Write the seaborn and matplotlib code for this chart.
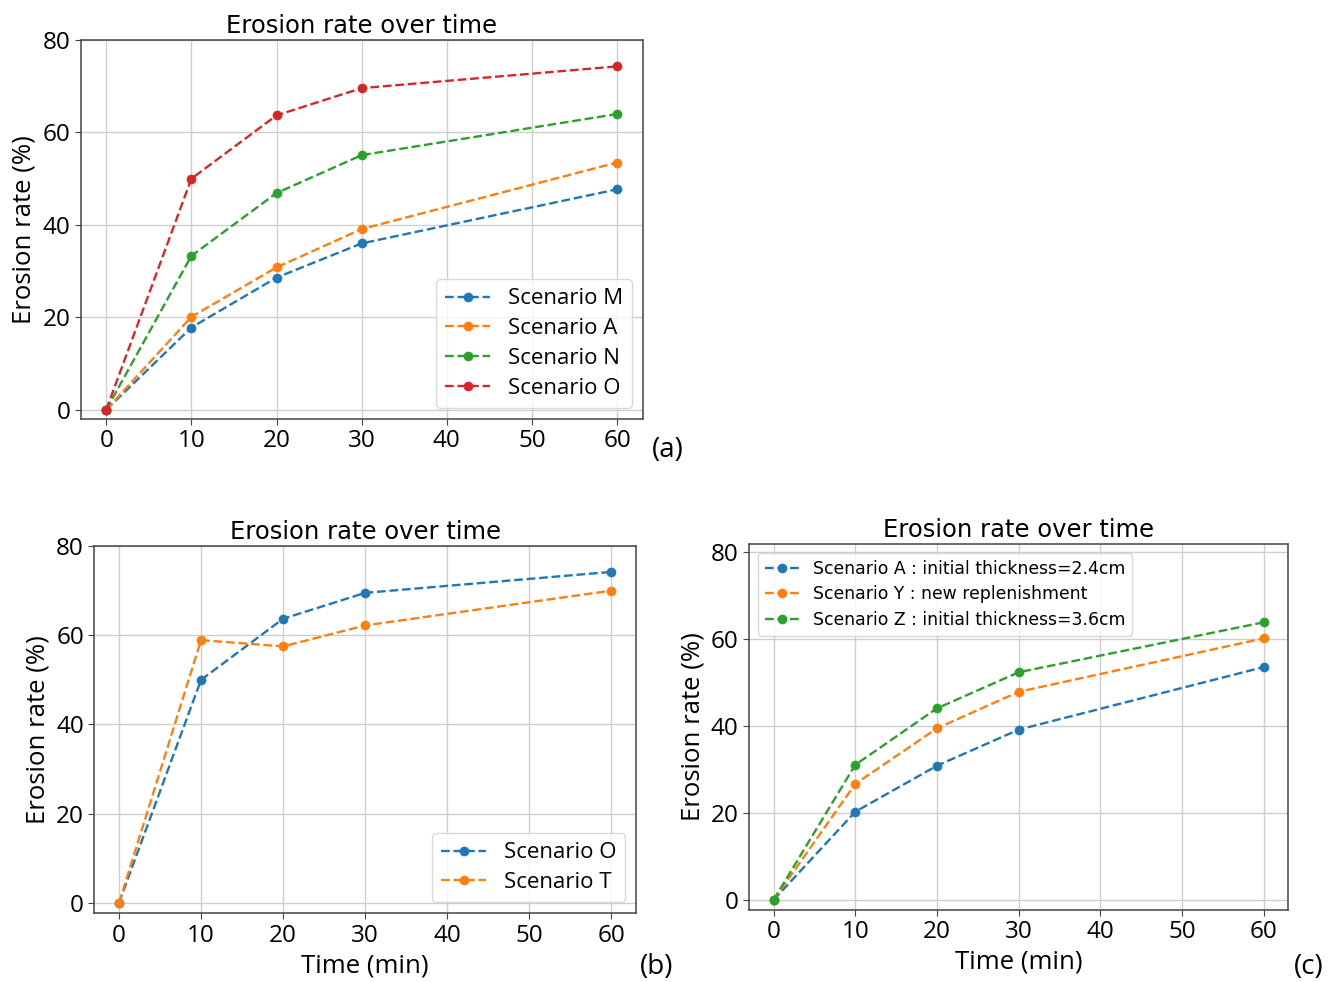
import matplotlib
matplotlib.use("Agg")
import matplotlib.pyplot as plt
import seaborn as sns
import pandas as pd

# Sampling times (minutes)
time_min = [0, 10, 20, 30, 60]

# Panel (a): four scenarios
scen_a_names = ["Scenario M", "Scenario A", "Scenario N", "Scenario O"]
rate_M = [0, 17.8, 28.6, 36.0, 47.7]
rate_A = [0, 20.1, 30.8, 39.1, 53.5]
rate_N = [0, 33.3, 46.9, 55.1, 64.0]
rate_O = [0, 50.0, 63.7, 69.6, 74.3]

# Panel (b): scenarios O and T
scen_b_names = ["Scenario O", "Scenario T"]
rate_O_b = [0, 50.0, 63.7, 69.5, 74.2]
rate_T = [0, 58.9, 57.5, 62.2, 70.0]

# Panel (c): thickness / replenishment comparison
scen_c_names = ["Scenario A : initial thickness=2.4cm",
                "Scenario Y : new replenishment",
                "Scenario Z : initial thickness=3.6cm"]
rate_A_c = [0, 20.3, 30.9, 39.2, 53.6]
rate_Y = [0, 26.7, 39.5, 47.9, 60.2]
rate_Z = [0, 31.1, 44.1, 52.4, 63.9]

yticks = [0, 20, 40, 60, 80]
xticks = [0, 10, 20, 30, 40, 50, 60]

palette = sns.color_palette("tab10")
LABEL_FONT = ["Open Sans", "DejaVu Sans"]
TITLE_FONT = ["DejaVu Sans"]

fig = plt.figure(figsize=(13.38, 9.82), dpi=100)


def make_frame(names, series):
    rows = []
    for name, vals in zip(names, series):
        for t, v in zip(time_min, vals):
            rows.append({"time": t, "rate": v, "scenario": name})
    return pd.DataFrame(rows)


def draw_panel(ax, names, series, ylim, xlabel, legend_loc, legend_font,
               legend_size, legend_spacing, tick_size, label_size):
    df = make_frame(names, series)
    for i, name in enumerate(names):
        sub = df[df["scenario"] == name]
        sns.lineplot(data=sub, x="time", y="rate", ax=ax, color=palette[i],
                     linestyle="--", marker="o", markersize=6.5,
                     markeredgecolor=palette[i], markeredgewidth=0.5,
                     linewidth=1.7, label=name)
    ax.set_xlim(-3, 63)
    ax.set_ylim(*ylim)
    ax.set_xticks(xticks)
    ax.set_yticks(yticks)
    ax.grid(True, color="#cfcfcf", linewidth=1.0)
    ax.set_axisbelow(True)
    for sp in ax.spines.values():
        sp.set_color("#444444")
        sp.set_linewidth(1.1)
    ax.tick_params(labelsize=tick_size, color="#444444", length=4)
    for lab in ax.get_xticklabels() + ax.get_yticklabels():
        lab.set_family(LABEL_FONT)
    ax.set_title("Erosion rate over time", fontsize=17.5, family=TITLE_FONT, pad=5)
    ax.set_ylabel("Erosion rate (%)", fontsize=label_size, family=LABEL_FONT)
    ax.set_xlabel(xlabel, fontsize=label_size, family=LABEL_FONT)
    leg = ax.legend(loc=legend_loc, prop={"family": legend_font, "size": legend_size},
                    framealpha=0.8, edgecolor="#d0d0d0", handlelength=2.0,
                    labelspacing=legend_spacing)
    return leg


ax_a = fig.add_axes([0.0603, 0.5733, 0.4200, 0.3859])
draw_panel(ax_a, scen_a_names, [rate_M, rate_A, rate_N, rate_O], (-2, 80), "",
           "lower right", LABEL_FONT, 16, 0.4, 17.5, 18.5)

ax_b = fig.add_axes([0.0705, 0.0700, 0.4049, 0.3740])
draw_panel(ax_b, scen_b_names, [rate_O_b, rate_T], (-2.3, 80), "Time (min)",
           "lower right", LABEL_FONT, 16, 0.4, 17.5, 18.5)

ax_c = fig.add_axes([0.5598, 0.0733, 0.4031, 0.3727])
draw_panel(ax_c, scen_c_names, [rate_A_c, rate_Y, rate_Z], (-2.3, 81.9), "Time (min)",
           "upper left", ["DejaVu Sans"], 12.4, 0.45, 17.5, 18.5)

# Panel letters
fig.text(652 / 1338, 1 - 450 / 982, "(a)", fontsize=20, family=LABEL_FONT, va="center")
fig.text(640 / 1338, 1 - 967 / 982, "(b)", fontsize=20, family=LABEL_FONT, va="center")
fig.text(1294 / 1338, 1 - 967 / 982, "(c)", fontsize=20, family=LABEL_FONT, va="center")

fig.savefig("out.png", dpi=100)
